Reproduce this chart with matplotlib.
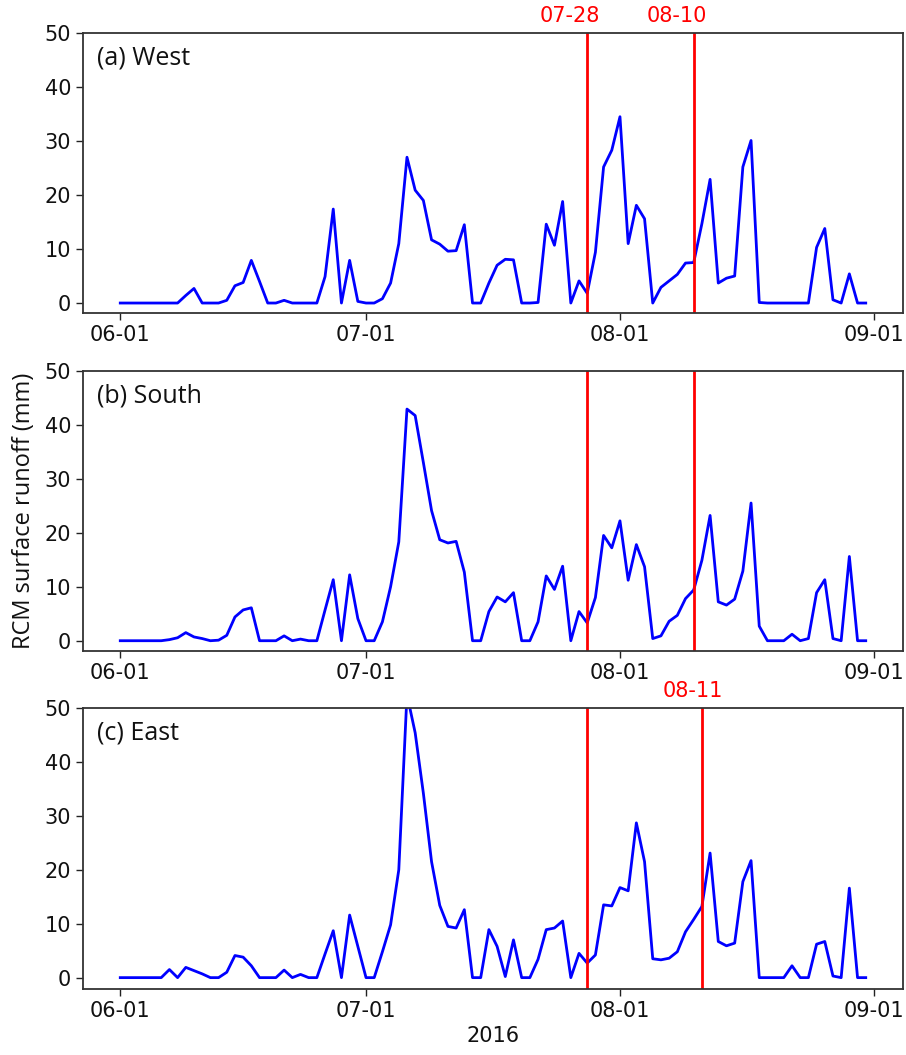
import matplotlib
matplotlib.use("Agg")
import matplotlib.pyplot as plt
import matplotlib.dates as mdates
import numpy as np
import pandas as pd

# ---------------- data ----------------
dates = pd.date_range("2016-06-01", "2016-08-31", freq="D")

west = [0, 0, 0, 0, 0, 0, 0, 0, 1.4, 2.7,
        0, 0, 0, 0.5, 3.2, 3.8, 7.9, 4.0, 0, 0,
        0.5, 0, 0, 0, 0, 4.9, 17.4, 0, 7.9, 0.3,
        0, 0, 0.8, 3.7, 11.0, 27.0, 20.9, 19.0, 11.7, 10.9,
        9.6, 9.7, 14.5, 0, 0, 3.7, 7.0, 8.1, 8.0, 0,
        0, 0.1, 14.6, 10.7, 18.8, 0, 4.1, 1.8, 9.4, 25.2,
        28.3, 34.5, 11.0, 18.1, 15.6, 0, 2.9, 4.1, 5.3, 7.4,
        7.5, 14.7, 22.9, 3.7, 4.6, 5.0, 25.2, 30.1, 0.1, 0,
        0, 0, 0, 0, 0, 10.3, 13.8, 0.6, 0, 5.4,
        0, 0]

south = [0, 0, 0, 0, 0, 0, 0.2, 0.55, 1.5, 0.7,
         0.4, 0, 0.1, 1.0, 4.4, 5.7, 6.1, 0, 0, 0,
         0.9, 0, 0.3, 0, 0, 5.7, 11.3, 0, 12.2, 4.1,
         0, 0, 3.5, 10.0, 18.3, 42.9, 41.7, 33.0, 24.1, 18.7,
         18.1, 18.4, 12.7, 0, 0, 5.4, 8.1, 7.2, 8.9, 0,
         0, 3.5, 12.0, 9.5, 13.8, 0, 5.4, 3.3, 8.0, 19.5,
         17.2, 22.2, 11.2, 17.8, 13.7, 0.4, 0.9, 3.6, 4.7, 7.8,
         9.4, 14.9, 23.2, 7.2, 6.6, 7.7, 12.9, 25.5, 2.7, 0,
         0, 0, 1.2, 0, 0.4, 8.9, 11.3, 0.4, 0, 15.6,
         0, 0]

east = [0, 0, 0, 0, 0, 0, 1.5, 0, 1.9, 1.3,
        0.7, 0, 0, 1.0, 4.1, 3.8, 2.2, 0, 0, 0,
        1.4, 0, 0.6, 0, 0, 4.4, 8.7, 0, 11.6, 5.8,
        0, 0, 4.8, 9.8, 20.0, 52.5, 45.4, 34.2, 21.5, 13.4,
        9.5, 9.2, 12.6, 0, 0, 8.9, 5.8, 0.2, 7.0, 0,
        0, 3.4, 8.9, 9.2, 10.5, 0, 4.5, 2.7, 4.2, 13.5,
        13.3, 16.7, 16.1, 28.7, 21.5, 3.5, 3.3, 3.6, 4.8, 8.5,
        10.8, 13.2, 23.1, 6.7, 5.9, 6.4, 17.8, 21.7, 0, 0,
        0, 0, 2.2, 0, 0, 6.2, 6.7, 0.3, 0, 16.6,
        0, 0]

panel_titles = ["(a) West", "(b) South", "(c) East"]
series = [west, south, east]
event_dates = [["2016-07-28", "2016-08-10"],
               ["2016-07-28", "2016-08-10"],
               ["2016-07-28", "2016-08-11"]]
event_labels = [["07-28", "08-10"], [None, None], [None, "08-11"]]
label_offsets = [[-17, -17], [0, 0], [0, -9]]
ybottoms = [-1.85, -1.95, -2.1]

# ---------------- figure ----------------
fig = plt.figure(figsize=(9.06, 10.55), dpi=100)
left, width = 0.0916, 0.9051
boxes = [(0.7033, 0.2654), (0.3827, 0.2659), (0.0626, 0.2663)]

TICKFS = 15
for i, (b, h) in enumerate(boxes):
    ax = fig.add_axes([left, b, width, h])
    ax.plot(dates, series[i], color="#0000ff", lw=2.0)
    for d, lab, off in zip(event_dates[i], event_labels[i], label_offsets[i]):
        dt = pd.Timestamp(d)
        ax.axvline(dt, color="#ff0000", lw=2.0)
        if lab:
            ax.annotate(lab, xy=(dt, 1.0), xycoords=("data", "axes fraction"),
                        xytext=(off, 7), textcoords="offset pixels",
                        ha="center", va="bottom", color="#ff0000",
                        fontsize=TICKFS, family="DejaVu Sans")
    ax.set_ylim(ybottoms[i], 50)
    ax.set_yticks([0, 10, 20, 30, 40, 50])
    ax.xaxis.set_major_locator(mdates.MonthLocator())
    ax.xaxis.set_major_formatter(mdates.DateFormatter("%m-%d"))
    ax.set_xlim(mdates.date2num(dates[0]) - 4.55, mdates.date2num(dates[-1]) + 4.55)
    ax.tick_params(labelsize=TICKFS, length=5, width=1.0, colors="#222222",
                   labelcolor="#111111")
    for s in ax.spines.values():
        s.set_color("#333333")
        s.set_linewidth(1.3)
    ax.text(0.017, 0.955, panel_titles[i], transform=ax.transAxes,
            ha="left", va="top", fontsize=18, family="Open Sans", color="#111111")
    if i == 1:
        ax.set_ylabel("RCM surface runoff (mm)", fontsize=17, family="Open Sans",
                      labelpad=6, color="#111111")
    if i == 2:
        ax.set_xlabel("2016", fontsize=TICKFS, color="#111111", labelpad=4)

fig.savefig("out.png", dpi=100)
